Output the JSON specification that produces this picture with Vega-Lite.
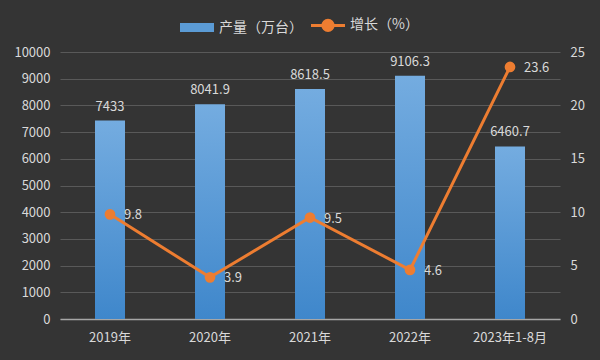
{
  "$schema": "https://vega.github.io/schema/vega-lite/v6.json",
  "width": 500,
  "height": 267,
  "autosize": "none",
  "padding": {"left": 60, "top": 52, "right": 40, "bottom": 41},
  "background": "#343434",
  "config": {
    "view": {"stroke": null},
    "font": "Noto Sans CJK SC",
    "axis": {"labelFont": "Noto Sans CJK SC", "labelFontSize": 13, "labelColor": "#d9d9d9", "ticks": false, "domain": false, "title": null, "labelOverlap": false}
  },
  "data": {
    "values": [
      {"year": "2019年", "prod": 7433, "prodLabel": "7433", "growth": 9.8},
      {"year": "2020年", "prod": 8041.9, "prodLabel": "8041.9", "growth": 3.9},
      {"year": "2021年", "prod": 8618.5, "prodLabel": "8618.5", "growth": 9.5},
      {"year": "2022年", "prod": 9106.3, "prodLabel": "9106.3", "growth": 4.6},
      {"year": "2023年1-8月", "prod": 6460.7, "prodLabel": "6460.7", "growth": 23.6}
    ]
  },
  "encoding": {
    "x": {
      "field": "year", "type": "nominal", "sort": null,
      "scale": {"paddingInner": 0.7, "paddingOuter": 0.35},
      "axis": {"labelAngle": 0, "labelPadding": 12, "domain": true, "domainColor": "#a6a6a6", "domainWidth": 1.5}
    }
  },
  "layer": [
    {
      "encoding": {
        "y": {"field": "prod", "type": "quantitative",
          "scale": {"domain": [0, 10000]},
          "axis": {"orient": "left", "values": [0,1000,2000,3000,4000,5000,6000,7000,8000,9000,10000], "grid": true, "gridColor": "#595959", "gridWidth": 1, "labelPadding": 10, "format": "d"}}
      },
      "layer": [
        {
          "mark": {
            "type": "bar",
            "color": {"gradient": "linear", "x1": 0, "y1": 0, "x2": 0, "y2": 1,
              "stops": [{"offset": 0, "color": "#74ace0"}, {"offset": 1, "color": "#3f87cb"}]}
          }
        },
        {
          "mark": {"type": "text", "dy": -14, "fontSize": 13, "color": "#d9d9d9"},
          "encoding": {"text": {"field": "prodLabel"}}
        }
      ]
    },
    {
      "encoding": {
        "y": {"field": "growth", "type": "quantitative",
          "scale": {"domain": [0, 25]},
          "axis": {"orient": "right", "values": [0,5,10,15,20,25], "grid": false, "labelPadding": 10}}
      },
      "layer": [
        {
          "mark": {"type": "line", "color": "#ED7D31", "strokeWidth": 3},
          "encoding": {
            "color": {
              "datum": "增长（%）",
              "scale": {"domain": ["产量（万台）", "增长（%）"], "range": ["#5B9BD5", "#ED7D31"]},
              "legend": {
                "orient": "none", "legendX": 118, "legendY": -34, "direction": "horizontal", "title": null,
                "symbolSize": 300, "labelColor": "#d9d9d9", "labelFontSize": 14, "labelFont": "Noto Sans CJK SC",
                "columnPadding": 2, "labelOffset": 15, "symbolOffset": 12,
                "encode": {
                  "symbols": {"update": {
                    "size": {"value": 1156},
                    "shape": {"signal": "datum.value === '产量（万台）' ? 'M-1,-0.26H1V0.26H-1Z' : 'M-1,0H1M0.3,0A0.3,0.3,0,1,1,-0.3,0A0.3,0.3,0,1,1,0.3,0'"},
                    "fill": {"signal": "datum.value === '产量（万台）' ? '#5B9BD5' : '#ED7D31'"},
                    "stroke": {"signal": "datum.value === '产量（万台）' ? '#5B9BD5' : '#ED7D31'"},
                    "strokeWidth": {"signal": "datum.value === '产量（万台）' ? 0 : 3"},
                    "opacity": {"value": 1}, "fillOpacity": {"value": 1}
                  }}
                }
              }
            }
          }
        },
        {
          "mark": {"type": "point", "filled": true, "size": 115, "color": "#ED7D31", "opacity": 1}
        },
        {
          "mark": {"type": "text", "align": "left", "dx": 14, "dy": 1, "fontSize": 13, "color": "#d9d9d9"},
          "encoding": {"text": {"field": "growth", "format": ".1f"}}
        }
      ]
    }
  ],
  "resolve": {"scale": {"y": "independent"}}
}
